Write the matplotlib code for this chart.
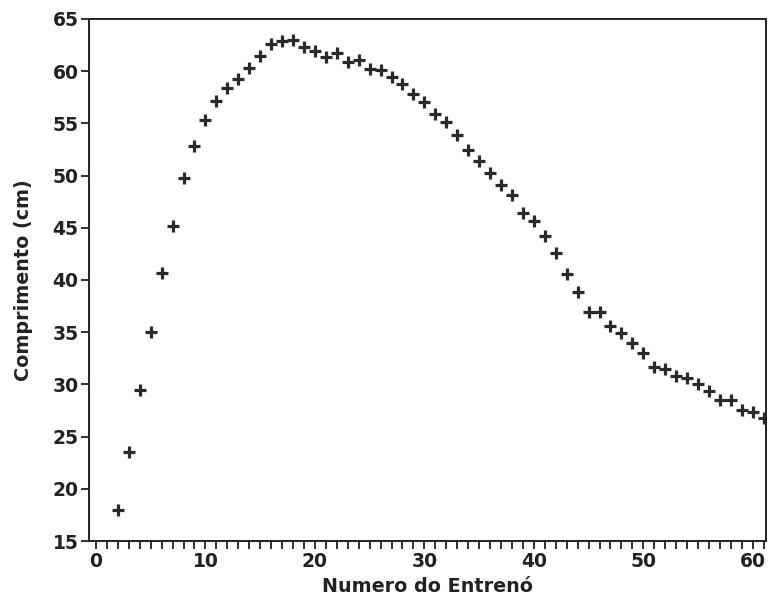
import matplotlib
matplotlib.use("Agg")
import matplotlib.pyplot as plt
from matplotlib.ticker import MultipleLocator

plt.rcParams['font.family'] = ['DejaVu Sans']

entreno = list(range(2, 62))
comprimento = [
    18.0, 23.5, 29.5, 35.0, 40.7, 45.2, 49.8, 52.8, 55.3, 57.1,   # 2-11
    58.4, 59.2, 60.3, 61.4, 62.6, 62.9, 63.0, 62.3, 61.9, 61.3,   # 12-21
    61.7, 60.9, 61.1, 60.2, 60.1, 59.4, 58.8, 57.8, 57.05, 55.9,  # 22-31
    55.1, 53.85, 52.4, 51.4, 50.2, 49.1, 48.1, 46.4, 45.6, 44.2,  # 32-41
    42.6, 40.6, 38.85, 36.9, 36.9, 35.6, 34.9, 34.0, 33.0, 31.7,  # 42-51
    31.5, 30.8, 30.6, 30.0, 29.4, 28.5, 28.5, 27.6, 27.4, 26.8,   # 52-61
]
xticks = [0, 10, 20, 30, 40, 50, 60]
yticks = [15, 20, 25, 30, 35, 40, 45, 50, 55, 60, 65]

fig = plt.figure(figsize=(7.69, 6.08), dpi=100)
ax = fig.add_axes([0.1155, 0.110, 0.8805, 0.859])

ax.plot(entreno, comprimento, linestyle='none', marker='+', markersize=8.5,
        markeredgewidth=2.3, color='#2a2a2a')

ax.set_xlim(-0.65, 61.2)
ax.set_ylim(15, 65)
ax.set_xticks(xticks)
ax.set_yticks(yticks)
ax.xaxis.set_minor_locator(MultipleLocator(1))
ax.tick_params(axis='both', which='both', direction='out', length=6, width=1.3,
               colors='#222222', pad=1.5)
ax.tick_params(axis='both', which='major', labelsize=13.5)
for lab in ax.get_xticklabels() + ax.get_yticklabels():
    lab.set_fontweight('bold')
for s in ax.spines.values():
    s.set_linewidth(1.4)
    s.set_color('#222222')

ax.set_xlabel('Numero do Entrenó', fontsize=13.8, fontweight='bold',
              color='#222222', labelpad=5)
ax.set_ylabel('Comprimento (cm)', fontsize=13.8, fontweight='bold',
              color='#222222', labelpad=14)

fig.savefig('out.png', dpi=100)
